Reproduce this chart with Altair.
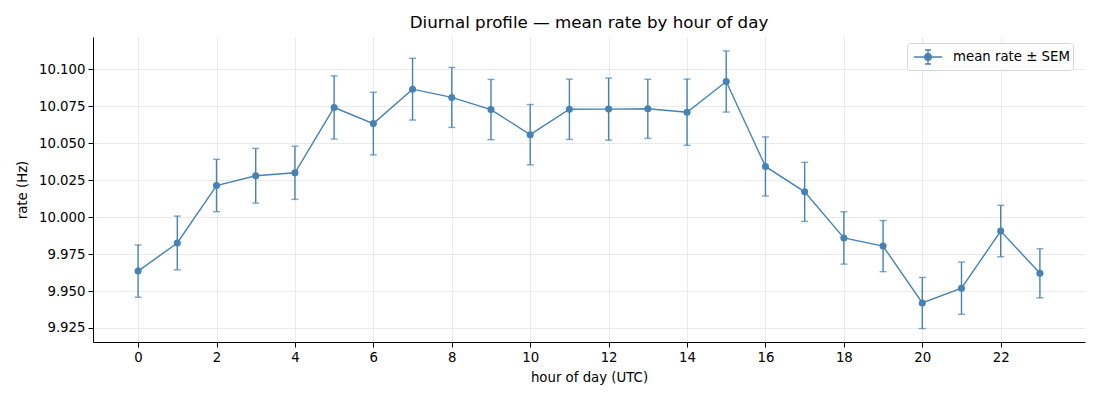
import altair as alt
import pandas as pd

hours = list(range(24))
mean_rate = [9.9635, 9.9825, 10.0214, 10.0280, 10.0300, 10.0742, 10.0633, 10.0866,
             10.0810, 10.0728, 10.0558, 10.0730, 10.0731, 10.0733, 10.0710, 10.0918,
             10.0343, 10.0171, 9.9859, 9.9804, 9.9419, 9.9519, 9.9906, 9.9620]
sem = [0.0177, 0.0182, 0.0177, 0.0185, 0.0180, 0.0214, 0.0212, 0.0209,
       0.0203, 0.0204, 0.0204, 0.0204, 0.0210, 0.0200, 0.0224, 0.0207,
       0.0200, 0.0200, 0.0177, 0.0173, 0.0173, 0.0177, 0.0174, 0.0166]
series_name = "mean rate ± SEM"

df = pd.DataFrame({"hour": hours, "mean": mean_rate, "sem": sem})
df["lo"] = df["mean"] - df["sem"]
df["hi"] = df["mean"] + df["sem"]
df["series"] = series_name

COLOR = "#4682b4"
FONT = "DejaVu Sans"
FS = 13.3

x_enc = alt.X("hour:Q", scale=alt.Scale(domain=[-1.15, 24.15], nice=False, zero=False),
              axis=alt.Axis(title="hour of day (UTC)", values=list(range(0, 24, 2)),
                            format="d", titlePadding=7))
y_scale = alt.Scale(domain=[9.9155, 10.1219], nice=False, zero=False)
y_axis = alt.Axis(title="rate (Hz)", values=[9.925, 9.95, 9.975, 10.0, 10.025, 10.05, 10.075, 10.1],
                  format=".3f", titlePadding=9)

color_enc = alt.Color("series:N", scale=alt.Scale(domain=[series_name], range=[COLOR]),
                      legend=alt.Legend(
                          title=None, orient="none", legendX=814, legendY=6,
                          symbolType="M-1.4,0H1.4M0,-0.7V0.7M-0.3,-0.7H0.3M-0.3,0.7H0.3"
                                     "M0.32,0A0.32,0.32 0 1,1 -0.32,0A0.32,0.32 0 1,1 0.32,0Z",
                          symbolSize=400, symbolStrokeWidth=1.4, symbolFillColor=COLOR,
                          symbolStrokeColor=COLOR, labelFontSize=FS, labelFont=FONT,
                          labelColor="#000000", strokeColor="#d6d6d6", fillColor="white",
                          cornerRadius=3, padding=3, symbolOffset=7, labelOffset=14,
                          rowPadding=0))

base = alt.Chart(df)

rules = base.mark_rule(color=COLOR, strokeWidth=1.4).encode(
    x=x_enc, y=alt.Y("lo:Q", scale=y_scale, axis=y_axis), y2="hi:Q")
cap_lo = base.mark_tick(color=COLOR, size=7, thickness=1.4, orient="horizontal").encode(
    x="hour:Q", y=alt.Y("lo:Q", scale=y_scale))
cap_hi = base.mark_tick(color=COLOR, size=7, thickness=1.4, orient="horizontal").encode(
    x="hour:Q", y=alt.Y("hi:Q", scale=y_scale))
line = base.mark_line(strokeWidth=1.4).encode(
    x="hour:Q", y=alt.Y("mean:Q", scale=y_scale), color=color_enc)
pts = base.mark_point(filled=True, size=50, opacity=1).encode(
    x="hour:Q", y=alt.Y("mean:Q", scale=y_scale),
    color=alt.Color("series:N", scale=alt.Scale(domain=[series_name], range=[COLOR]), legend=None))

chart = alt.layer(rules, cap_lo, cap_hi, line, pts).properties(
    width=992, height=305,
    title=alt.Title("Diurnal profile — mean rate by hour of day", fontSize=16.7,
                    font=FONT, fontWeight="normal", color="#000000", offset=5),
    autosize=alt.AutoSizeParams(type="none"),
    padding={"left": 85, "top": 29, "right": 7, "bottom": 50},
).configure_view(stroke=None).configure_axis(
    labelFont=FONT, titleFont=FONT, labelFontSize=FS, titleFontSize=FS,
    titleFontWeight="normal", labelColor="#000000", titleColor="#000000",
    domainColor="#000000", domainWidth=1, tickColor="#000000", tickSize=5,
    tickWidth=1, labelPadding=3, gridColor="#e5e5e5", gridWidth=0.8,
).configure_axisX(labelFlush=False)

chart.save("out.html", embed_options={"renderer": "svg", "actions": False})
